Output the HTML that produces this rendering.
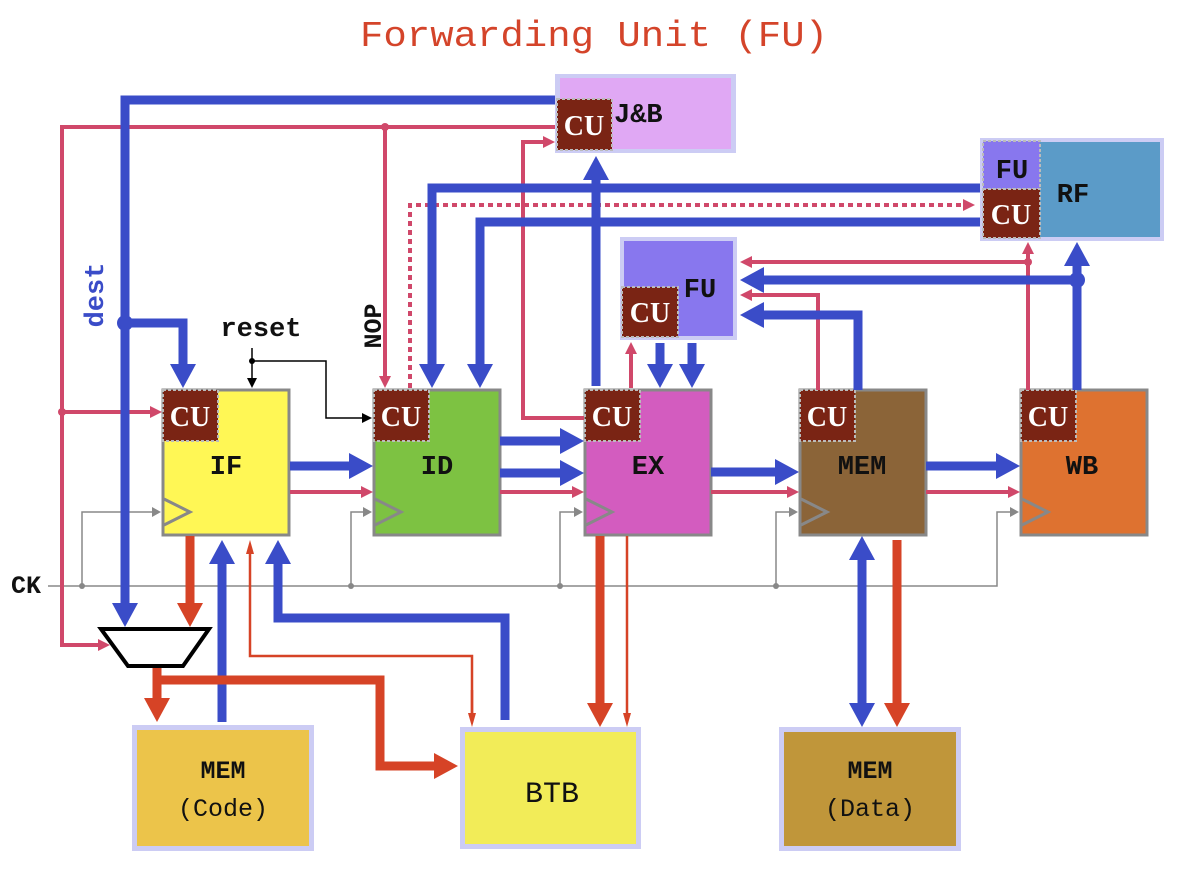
<!DOCTYPE html>
<html><head><meta charset="utf-8"><style>
html,body{margin:0;padding:0;background:#fff;}
svg{display:block;}
text{font-family:"Liberation Mono",monospace;font-weight:bold;}
text.cu{font-family:"Liberation Serif",serif;}
</style></head><body>
<svg width="1181" height="869" viewBox="0 0 1181 869" xmlns="http://www.w3.org/2000/svg">
<defs>
<marker id="bA" markerUnits="userSpaceOnUse" viewBox="0 -13 24 26" markerWidth="24" markerHeight="26" refX="0" refY="0" orient="auto" overflow="visible"><path d="M0,-13L24,0L0,13z" fill="#3a4cc8"/></marker>
<marker id="oA" markerUnits="userSpaceOnUse" viewBox="0 -13 24 26" markerWidth="24" markerHeight="26" refX="0" refY="0" orient="auto" overflow="visible"><path d="M0,-13L24,0L0,13z" fill="#d64326"/></marker>
<marker id="pA" markerUnits="userSpaceOnUse" viewBox="0 -6 12 12" markerWidth="12" markerHeight="12" refX="0" refY="0" orient="auto" overflow="visible"><path d="M0,-6L12,0L0,6z" fill="#d0486a"/></marker>
<marker id="tA" markerUnits="userSpaceOnUse" viewBox="0 -4 14 8" markerWidth="14" markerHeight="8" refX="0" refY="0" orient="auto" overflow="visible"><path d="M0,-4L14,0L0,4z" fill="#d64326"/></marker>
<marker id="kA" markerUnits="userSpaceOnUse" viewBox="0 -5 10 10" markerWidth="10" markerHeight="10" refX="0" refY="0" orient="auto" overflow="visible"><path d="M0,-5L10,0L0,5z" fill="#000"/></marker>
<marker id="gA" markerUnits="userSpaceOnUse" viewBox="0 -5 9 10" markerWidth="9" markerHeight="10" refX="0" refY="0" orient="auto" overflow="visible"><path d="M0,-5L9,0L0,5z" fill="#888"/></marker>
</defs>

<text x="594" y="46" text-anchor="middle" font-size="36" fill="#d4442a" textLength="468" lengthAdjust="spacingAndGlyphs" style="font-weight:normal">Forwarding Unit (FU)</text>

<rect x="555" y="74" width="181" height="79" fill="#ccccf4"/>
<rect x="560" y="78" width="171" height="71" fill="#e0a8f4"/>
<rect x="980" y="138" width="184" height="103" fill="#ccccf4"/>
<rect x="984" y="142" width="176" height="95" fill="#5b9bc8"/>
<rect x="983" y="141" width="57" height="48" fill="#8877ee" stroke="#bbb" stroke-width="2" stroke-dasharray="3,2"/>
<rect x="620" y="237" width="117" height="103" fill="#ccccf4"/>
<rect x="624" y="241" width="109" height="95" fill="#8877ee"/>
<rect x="132" y="725" width="182" height="126" fill="#ccccf4"/>
<rect x="137" y="730" width="172" height="116" fill="#ecc44a"/>
<rect x="460" y="727" width="181" height="122" fill="#ccccf4"/>
<rect x="465" y="732" width="171" height="112" fill="#f2ec58"/>
<rect x="779" y="727" width="182" height="124" fill="#ccccf4"/>
<rect x="784" y="732" width="172" height="114" fill="#c0963a"/>

<rect x="163" y="390" width="126" height="145" fill="#fff755" stroke="#888" stroke-width="3"/>
<rect x="374" y="390" width="126" height="145" fill="#7dc242" stroke="#888" stroke-width="3"/>
<rect x="585" y="390" width="126" height="145" fill="#d35cbf" stroke="#888" stroke-width="3"/>
<rect x="800" y="390" width="126" height="145" fill="#8b6438" stroke="#888" stroke-width="3"/>
<rect x="1021" y="390" width="126" height="145" fill="#de7230" stroke="#888" stroke-width="3"/>
<g fill="none" stroke="#888" stroke-width="3">
<path d="M164,499L190,512L164,525"/><path d="M375,499L401,512L375,525"/><path d="M586,499L612,512L586,525"/><path d="M801,499L827,512L801,525"/><path d="M1022,499L1048,512L1022,525"/>
</g>

<g fill="#7a2414" stroke="#bbb" stroke-width="2" stroke-dasharray="3,2">
<rect x="163" y="390" width="55" height="51"/>
<rect x="374" y="390" width="55" height="51"/>
<rect x="585" y="390" width="55" height="51"/>
<rect x="800" y="390" width="55" height="51"/>
<rect x="1021" y="390" width="55" height="51"/>
<rect x="557" y="99" width="55" height="51"/>
<rect x="983" y="189" width="57" height="49"/>
<rect x="622" y="287" width="56" height="50"/>
</g>
<g fill="#fff" font-size="28" text-anchor="middle">
<text class="cu" x="190" y="426">CU</text><text class="cu" x="401" y="426">CU</text><text class="cu" x="612" y="426">CU</text><text class="cu" x="827" y="426">CU</text><text class="cu" x="1048" y="426">CU</text>
<text class="cu" x="584" y="135">CU</text><text class="cu" x="1011" y="224">CU</text><text class="cu" x="650" y="322">CU</text>
</g>

<g font-size="27" fill="#111" text-anchor="middle">
<text x="226" y="474">IF</text><text x="437" y="474">ID</text><text x="648" y="474">EX</text><text x="862" y="474">MEM</text><text x="1082" y="474">WB</text>
<text x="614" y="122" text-anchor="start">J&amp;B</text><text x="1073" y="202">RF</text><text x="700" y="297">FU</text><text x="1012" y="178">FU</text>
<text x="223" y="778" font-size="25">MEM</text><text x="223" y="816" font-size="25" style="font-weight:normal">(Code)</text>
<text x="552" y="802" font-size="30" style="font-weight:normal">BTB</text>
<text x="870" y="778" font-size="25">MEM</text><text x="870" y="816" font-size="25" style="font-weight:normal">(Data)</text>
<text x="26" y="593" font-size="25">CK</text>
<text x="261" y="336" font-size="27">reset</text>
<text x="0" y="0" transform="translate(381,326) rotate(-90)" font-size="25">NOP</text>
<text x="0" y="0" transform="translate(103,295) rotate(-90)" font-size="27" fill="#3a4cc8">dest</text>
</g>

<g fill="none" stroke="#888" stroke-width="1.5">
<path d="M48,586H997V512H1010" marker-end="url(#gA)"/>
<path d="M82,586V512H152" marker-end="url(#gA)"/>
<path d="M351,586V512H363" marker-end="url(#gA)"/>
<path d="M560,586V512H574" marker-end="url(#gA)"/>
<path d="M776,586V512H789" marker-end="url(#gA)"/>
</g>
<g fill="#888"><circle cx="82" cy="586" r="3"/><circle cx="351" cy="586" r="3"/><circle cx="560" cy="586" r="3"/><circle cx="776" cy="586" r="3"/></g>

<g fill="none" stroke="#000" stroke-width="1.5">
<path d="M252,348V378" marker-end="url(#kA)"/>
<path d="M252,361H326V418H362" marker-end="url(#kA)"/>
</g>
<circle cx="252" cy="361" r="3" fill="#000"/>

<g fill="none" stroke="#d0486a" stroke-width="4">
<path d="M555,127H62V645H98" marker-end="url(#pA)"/>
<path d="M62,412H150" marker-end="url(#pA)"/>
<path d="M385,127V376" marker-end="url(#pA)"/>
<path d="M584,418H523V142H543" marker-end="url(#pA)"/>
<path d="M410,388V205H963" stroke-dasharray="5,4" marker-end="url(#pA)"/>
<path d="M631,388V354" marker-end="url(#pA)"/>
<path d="M818,390V295H752" marker-end="url(#pA)"/>
<path d="M1028,390V254" marker-end="url(#pA)"/>
<path d="M1028,262H752" marker-end="url(#pA)"/>
<path d="M290,492H361" marker-end="url(#pA)"/>
<path d="M500,492H572" marker-end="url(#pA)"/>
<path d="M711,492H787" marker-end="url(#pA)"/>
<path d="M926,492H1008" marker-end="url(#pA)"/>
</g>
<g fill="#d0486a"><circle cx="62" cy="412" r="4"/><circle cx="385" cy="127" r="4"/><circle cx="1028" cy="262" r="4"/></g>

<g fill="none" stroke="#3a4cc8" stroke-width="9">
<path d="M555,100H125V603" marker-end="url(#bA)"/>
<path d="M125,323H183V364" marker-end="url(#bA)"/>
<path d="M980,188H432V364" marker-end="url(#bA)"/>
<path d="M980,222H480V364" marker-end="url(#bA)"/>
<path d="M596,386V180" marker-end="url(#bA)"/>
<path d="M660,343V364" marker-end="url(#bA)"/>
<path d="M692,343V364" marker-end="url(#bA)"/>
<path d="M858,390V315H764" marker-end="url(#bA)"/>
<path d="M1077,390V266" marker-end="url(#bA)"/>
<path d="M1077,280H764" marker-end="url(#bA)"/>
<path d="M290,466H349" marker-end="url(#bA)"/>
<path d="M500,441H560" marker-end="url(#bA)"/>
<path d="M500,473H560" marker-end="url(#bA)"/>
<path d="M711,472H775" marker-end="url(#bA)"/>
<path d="M926,466H996" marker-end="url(#bA)"/>
<path d="M222,722V564" marker-end="url(#bA)"/>
<path d="M505,720V618H278V564" marker-end="url(#bA)"/>
<path d="M862,620V703" marker-end="url(#bA)"/>
<path d="M862,620V560" marker-end="url(#bA)"/>
</g>
<g fill="#3a4cc8"><circle cx="125" cy="323" r="8"/><circle cx="1077" cy="280" r="8"/></g>

<g fill="none" stroke="#d64326" stroke-width="9">
<path d="M190,536V603" marker-end="url(#oA)"/>
<path d="M157,666V698" marker-end="url(#oA)"/>
<path d="M157,680H380V766H434" marker-end="url(#oA)"/>
<path d="M600,536V703" marker-end="url(#oA)"/>
<path d="M897,540V703" marker-end="url(#oA)"/>
</g>
<g fill="none" stroke="#d64326" stroke-width="2.5">
<path d="M472,713V656H250V554" marker-end="url(#tA)"/>
<path d="M472,690V713" marker-end="url(#tA)"/>
<path d="M627,536V713" marker-end="url(#tA)"/>
</g>

<path d="M101,629H209L183,666H128Z" fill="#fff" stroke="#000" stroke-width="4"/>
</svg>
</body></html>
